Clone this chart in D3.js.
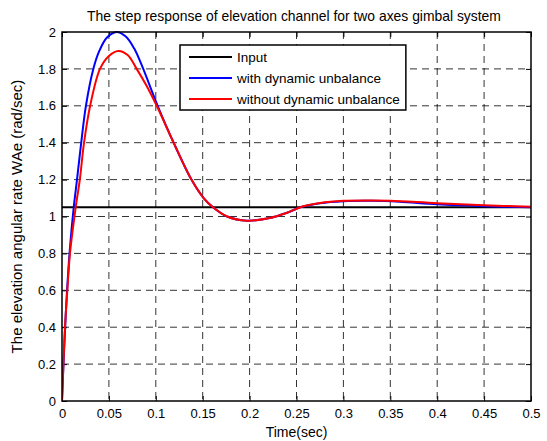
<!DOCTYPE html>
<html><head><meta charset="utf-8">
<script src="https://cdn.jsdelivr.net/npm/d3@7"></script>
<style>body{margin:0;background:#fff}svg{display:block}text{font-family:"Liberation Sans",Arial,sans-serif}</style>
</head><body>
<script>
const title = "The step response of elevation channel for two axes gimbal system";
const xLabel = "Time(sec)";
const yLabel = "The elevation angular rate WAe (rad/sec)";
const xTicks = [0,0.05,0.1,0.15,0.2,0.25,0.3,0.35,0.4,0.45,0.5];
const yTicks = [0,0.2,0.4,0.6,0.8,1,1.2,1.4,1.6,1.8,2];
const legendLabels = ["Input","with dynamic unbalance","without dynamic unbalance"];
const colors = ["#000000","#0000ff","#ff0000"];
const inputValue = 1.05;
const tInput = [0,0.5];
const tBlue = [0,0.002,0.004,0.006,0.0085,0.0125,0.016,0.0205,0.0255,0.0334,0.040,0.048,0.058,0.068,0.077,0.085,0.102,0.119,0.138,0.151,0.161,0.176,0.197,0.22,0.24,0.254,0.275,0.30,0.33,0.36,0.40,0.45,0.5];
const vBlue = [0,0.25,0.47,0.65,0.83,1.05,1.2,1.4,1.6,1.8,1.9,1.97,2.0,1.975,1.91,1.82,1.6,1.4,1.2,1.1,1.05,1.0,0.977,0.99,1.02,1.05,1.072,1.083,1.085,1.08,1.066,1.056,1.05];
const tRed = [0,0.0015,0.0032,0.0057,0.0085,0.0146,0.019,0.0235,0.030,0.0405,0.05,0.06,0.07,0.0796,0.09,0.101,0.119,0.138,0.151,0.161,0.176,0.197,0.22,0.24,0.254,0.275,0.30,0.33,0.35,0.40,0.45,0.5];
const vRed = [0,0.2,0.4,0.6,0.8,1.05,1.2,1.4,1.6,1.8,1.87,1.897,1.875,1.8,1.71,1.6,1.4,1.2,1.1,1.05,1.0,0.977,0.99,1.02,1.05,1.073,1.085,1.087,1.085,1.072,1.061,1.053];

const W=547,H=441, L=62,R=531,T=32,B=401;
const svg=d3.select("body").append("svg").attr("width",W).attr("height",H);
const x=d3.scaleLinear().domain([0,0.5]).range([L,R]);
const y=d3.scaleLinear().domain([0,2]).range([B,T]);

// grid
const g=svg.append("g");
g.selectAll(".gx").data(xTicks.slice(1,-1)).join("line")
 .attr("x1",d=>x(d)).attr("x2",d=>x(d)).attr("y1",T).attr("y2",B)
 .attr("stroke","#000").attr("stroke-opacity",0.8).attr("stroke-width",1).attr("stroke-dasharray","7,5");
g.selectAll(".gy").data(yTicks.slice(1,-1)).join("line")
 .attr("y1",d=>y(d)).attr("y2",d=>y(d)).attr("x1",L).attr("x2",R)
 .attr("stroke","#000").attr("stroke-opacity",0.8).attr("stroke-width",1).attr("stroke-dasharray","7,5");

// axes
const fmt=d=>d3.format("~g")(d);
svg.append("g").attr("transform",`translate(0,${B})`)
 .call(d3.axisBottom(x).tickValues(xTicks).tickFormat(fmt).tickSizeInner(-5).tickSizeOuter(0).tickPadding(8))
 .call(a=>{a.select(".domain").remove();a.selectAll("text").attr("font-size",13).attr("fill","#000");});
svg.append("g").attr("transform",`translate(0,${T})`)
 .call(d3.axisTop(x).tickValues(xTicks).tickFormat("").tickSizeInner(-5).tickSizeOuter(0))
 .call(a=>a.select(".domain").remove());
svg.append("g").attr("transform",`translate(${L},0)`)
 .call(d3.axisLeft(y).tickValues(yTicks).tickFormat(fmt).tickSizeInner(-5).tickSizeOuter(0).tickPadding(6))
 .call(a=>{a.select(".domain").remove();a.selectAll("text").attr("font-size",13).attr("fill","#000");});
svg.append("g").attr("transform",`translate(${R},0)`)
 .call(d3.axisRight(y).tickValues(yTicks).tickFormat("").tickSizeInner(-5).tickSizeOuter(0))
 .call(a=>a.select(".domain").remove());

// series
const line=d3.line().x(d=>x(d[0])).y(d=>y(d[1])).curve(d3.curveCatmullRom.alpha(0.5));
svg.append("clipPath").attr("id","c").append("rect").attr("x",L).attr("y",T-2).attr("width",R-L).attr("height",B-T+2);
svg.append("path").datum(tInput.map(t=>[t,inputValue])).attr("d",line).attr("fill","none").attr("stroke",colors[0]).attr("stroke-width",2);
svg.append("path").datum(tBlue.map((t,i)=>[t,vBlue[i]])).attr("d",line).attr("fill","none").attr("stroke",colors[1]).attr("stroke-width",2).attr("clip-path","url(#c)");
svg.append("path").datum(tRed.map((t,i)=>[t,vRed[i]])).attr("d",line).attr("fill","none").attr("stroke",colors[2]).attr("stroke-width",2).attr("clip-path","url(#c)");

// frame
svg.append("rect").attr("x",L).attr("y",T).attr("width",R-L).attr("height",B-T).attr("fill","none").attr("stroke","#000").attr("stroke-width",1.5);

// labels
svg.append("text").attr("x",294).attr("y",21).attr("text-anchor","middle").attr("font-size",13.9).text(title);
svg.append("text").attr("x",(L+R)/2).attr("y",437).attr("text-anchor","middle").attr("font-size",14).text(xLabel);
svg.append("text").attr("transform",`translate(22,${(T+B)/2}) rotate(-90)`).attr("text-anchor","middle").attr("font-size",15).text(yLabel);

// legend
const lg=svg.append("g");
const box=lg.append("rect").attr("x",180).attr("y",45).attr("height",65).attr("fill","#fff").attr("stroke","#000").attr("stroke-width",1.5);
const rows=[57,78,99];
let maxW=0;
legendLabels.forEach((lab,i)=>{
 lg.append("line").attr("x1",189).attr("x2",232).attr("y1",rows[i]).attr("y2",rows[i]).attr("stroke",colors[i]).attr("stroke-width",2);
 const t=lg.append("text").attr("x",237).attr("y",rows[i]+5).attr("font-size",13.5).text(lab);
 maxW=Math.max(maxW,t.node().getComputedTextLength());
});
box.attr("width",237+maxW+6-180);
</script>
</body></html>
